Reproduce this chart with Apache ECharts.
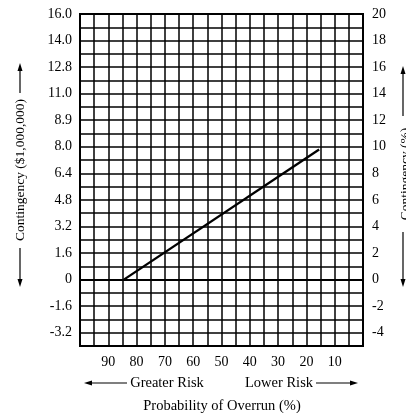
<!DOCTYPE html>
<html>
<head>
<meta charset="utf-8">
<script src="https://cdn.jsdelivr.net/npm/echarts@6/dist/echarts.min.js"></script>
<style>
html,body{margin:0;padding:0;background:#fff;}
#chart{width:406px;height:413px;}
</style>
</head>
<body>
<div id="chart"></div>
<script>
// ---- data ----
const probabilityOfOverrun = [84.5, 15.5];          // %
const contingencyPercent   = [0, 9.8];              // right-axis %
const xTickValues  = [90, 80, 70, 60, 50, 40, 30, 20, 10];
const yTickValues  = [20, 18, 16, 14, 12, 10, 8, 6, 4, 2, 0, -2, -4];
const leftTickLabels  = ['16.0','14.0','12.8','11.0','8.9','8.0','6.4','4.8','3.2','1.6','0','-1.6','-3.2'];
const rightTickLabels = ['20','18','16','14','12','10','8','6','4','2','0','-2','-4'];

const FONT = '"Liberation Serif", "DejaVu Serif", serif';
const chart = echarts.init(document.getElementById('chart'), null, {renderer:'canvas'});

function arrowH(x1, x2, y, dir){ // dir: -1 head at x1 (left), 1 head at x2 (right)
  const hx = dir < 0 ? x1 : x2;
  const bx = dir < 0 ? x1 + 8 : x2 - 8;
  return [
    {type:'line', shape:{x1: dir<0? x1+6 : x1, y1:y, x2: dir<0? x2 : x2-6, y2:y}, style:{stroke:'#000', lineWidth:1.2}},
    {type:'polygon', shape:{points:[[hx,y],[bx,y-2.5],[bx,y+2.5]]}, style:{fill:'#000'}}
  ];
}
function arrowV(x, y1, y2, dir){ // dir: -1 head at y1 (up), 1 head at y2 (down)
  const hy = dir < 0 ? y1 : y2;
  const by = dir < 0 ? y1 + 8 : y2 - 8;
  return [
    {type:'line', shape:{x1:x, y1: dir<0? y1+6 : y1, x2:x, y2: dir<0? y2 : y2-6}, style:{stroke:'#000', lineWidth:1.2}},
    {type:'polygon', shape:{points:[[x,hy],[x-2.5,by],[x+2.5,by]]}, style:{fill:'#000'}}
  ];
}

const graphics = [].concat(
  arrowH(84, 127, 383, -1),
  arrowH(316, 358, 383, 1),
  arrowV(20, 63, 93, -1),
  arrowV(20, 248, 287, 1),
  arrowV(403, 66, 116, -1),
  arrowV(403, 232, 287, 1),
  [
    {type:'text', x:167, y:383, style:{text:'Greater Risk', font:'14.5px '+FONT, fill:'#000', align:'center', verticalAlign:'middle'}},
    {type:'text', x:279, y:383, style:{text:'Lower Risk', font:'14.5px '+FONT, fill:'#000', align:'center', verticalAlign:'middle'}},
    {type:'text', x:222, y:406, style:{text:'Probability of Overrun (%)', font:'14.5px '+FONT, fill:'#000', align:'center', verticalAlign:'middle'}},
    {type:'text', x:20, y:170, rotation:Math.PI/2, style:{text:'Contingency ($1,000,000)', font:'13.5px '+FONT, fill:'#000', align:'center', verticalAlign:'middle'}},
    {type:'text', x:405, y:174, rotation:Math.PI/2, style:{text:'Contingency (%)', font:'13.5px '+FONT, fill:'#000', align:'center', verticalAlign:'middle'}}
  ]
);

const option = {
  animation:false,
  backgroundColor:'#fff',
  grid:{left:80, right:43, top:14, bottom:67, containLabel:false,
        show:true, borderColor:'#000', borderWidth:2},
  xAxis:{
    type:'value', min:0, max:100, interval:5, inverse:true,
    axisLine:{show:true, lineStyle:{color:'#000', width:2}},
    axisTick:{show:false},
    splitLine:{show:true, lineStyle:{color:'#000', width:1.5}},
    axisLabel:{
      margin:9, color:'#000', fontFamily:FONT, fontSize:14,
      formatter: v => xTickValues.indexOf(v) >= 0 ? String(v) : ''
    }
  },
  yAxis:[
    {
      type:'value', position:'left', min:-5, max:20, interval:1,
      axisLine:{show:true, lineStyle:{color:'#000', width:2}},
      axisTick:{show:false},
      splitLine:{show:true, lineStyle:{color:'#000', width:1.5}},
      axisLabel:{
        margin:8, color:'#000', fontFamily:FONT, fontSize:14,
        formatter: v => { const i = yTickValues.indexOf(v); return i >= 0 ? leftTickLabels[i] : ''; }
      }
    },
    {
      type:'value', position:'right', min:-5, max:20, interval:1,
      axisLine:{show:true, lineStyle:{color:'#000', width:2}},
      axisTick:{show:false},
      splitLine:{show:false},
      axisLabel:{
        margin:9, color:'#000', fontFamily:FONT, fontSize:14,
        formatter: v => { const i = yTickValues.indexOf(v); return i >= 0 ? rightTickLabels[i] : ''; }
      }
    }
  ],
  series:[{
    type:'line', yAxisIndex:1, symbol:'none',
    data: probabilityOfOverrun.map((p,i) => [p, contingencyPercent[i]]),
    lineStyle:{color:'#000', width:2.3}
  }],
  graphic: graphics
};
chart.setOption(option);
</script>
</body>
</html>
